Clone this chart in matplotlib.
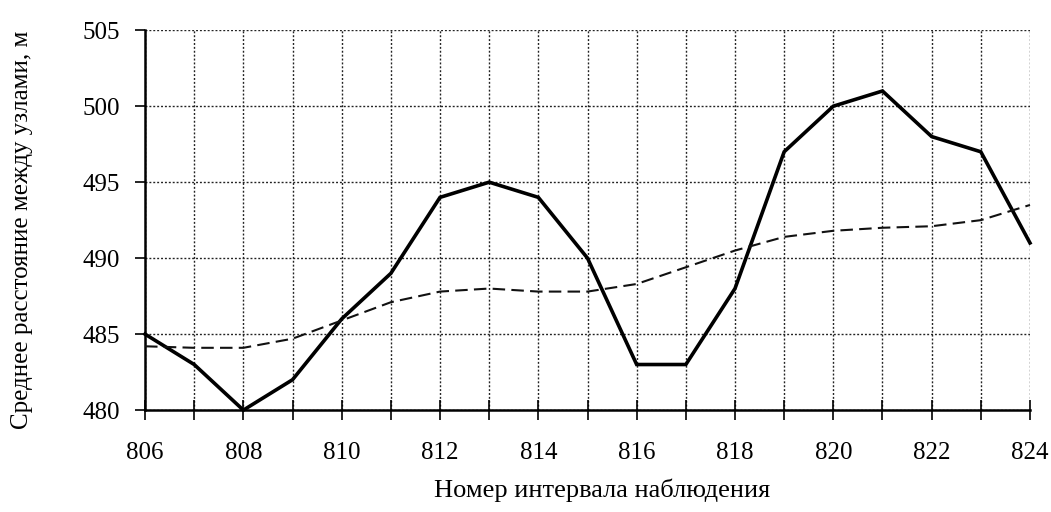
import matplotlib
matplotlib.use("Agg")
import matplotlib.pyplot as plt
import numpy as np

x = list(range(806, 825))
actual = [485, 483, 480, 482, 486, 489, 494, 495, 494, 490, 483, 483, 488, 497, 500, 501, 498, 497, 491]
smoothed = [484.2, 484.1, 484.1, 484.7, 485.9, 487.1, 487.8, 488.0, 487.8, 487.8, 488.3,
            489.4, 490.5, 491.4, 491.8, 492.0, 492.1, 492.5, 493.5]
xticks_major = list(range(806, 825, 2))
yticks = [480, 485, 490, 495, 500, 505]
xlabel = "Номер интервала наблюдения"
ylabel = "Среднее расстояние между узлами, м"

plt.rcParams['font.family'] = ['Liberation Serif', 'DejaVu Serif']

fig = plt.figure(figsize=(10.51, 5.12), dpi=100)
ax = fig.add_axes([0.138, 0.199, 0.842, 0.742])

ax.plot(x, actual, color='black', linewidth=2.6, solid_joinstyle='miter', zorder=3, clip_on=False)
ax.plot(x, smoothed, color='#111111', linewidth=1.5, linestyle=(0, (6, 3)), zorder=3, clip_on=False)

ax.set_xlim(806, 824)
ax.set_ylim(480, 505)
ax.set_xticks(xticks_major)
ax.set_xticks(x, minor=True)
ax.set_yticks(yticks)

grid_kw = dict(color='#222222', linestyle=(0, (1.4, 1.4)), linewidth=1.0)
ax.grid(True, which='both', axis='x', **grid_kw)
ax.grid(True, which='major', axis='y', **grid_kw)
ax.set_axisbelow(True)

ax.spines['top'].set_visible(False)
ax.spines['right'].set_visible(False)
ax.spines['left'].set_linewidth(1.8)
ax.spines['bottom'].set_linewidth(1.8)

ax.tick_params(axis='x', which='both', direction='inout', length=14, width=1.2, pad=16, labelsize=18)
ax.tick_params(axis='y', which='major', direction='out', length=7, width=1.2, pad=11, labelsize=18)

ax.set_xlabel(xlabel, fontsize=19, va='center')
ax.xaxis.set_label_coords(0.516, -0.21)
ax.set_ylabel(ylabel, fontsize=18, va='center')
ax.yaxis.set_label_coords(-0.139, 0.474)

fig.savefig("out.png", dpi=100)
